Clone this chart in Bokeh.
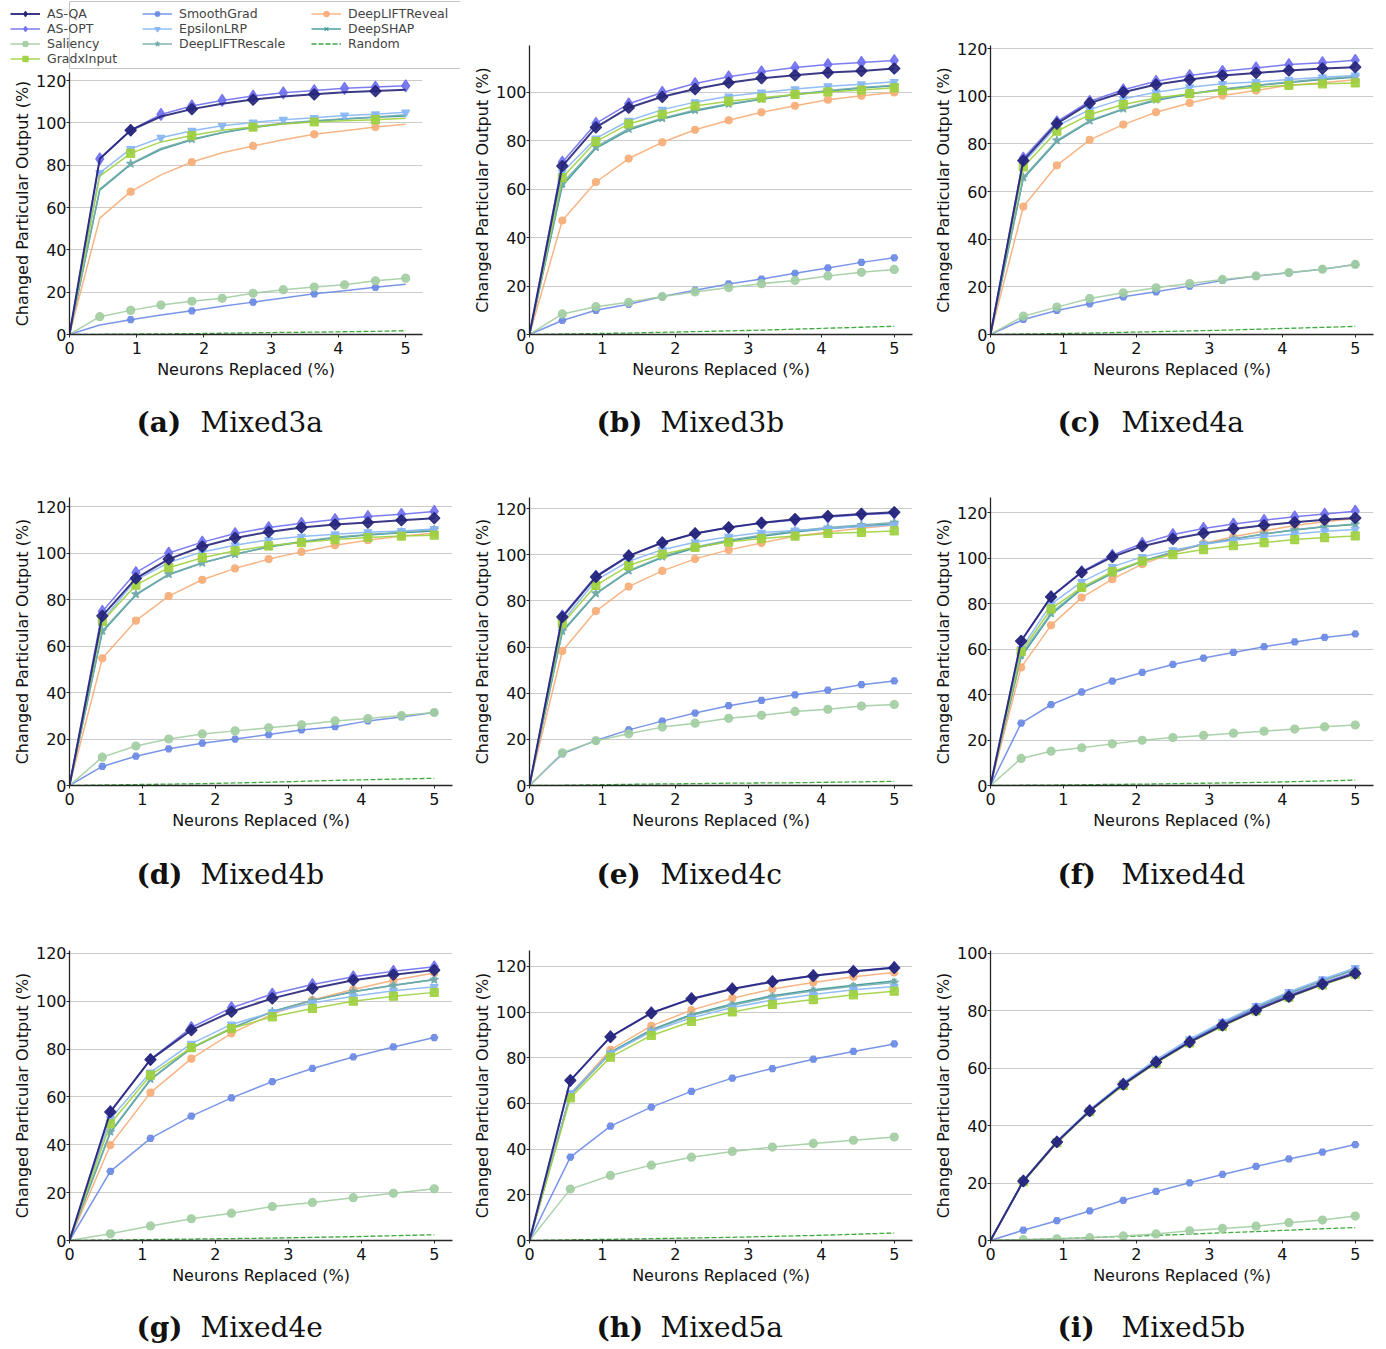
import math
from bokeh.plotting import figure
from bokeh.models import (Range1d, SingleIntervalTicker, Legend, LegendItem, Label)
from bokeh.layouts import row, column
from bokeh.embed import file_html
from bokeh.resources import INLINE

METHODS = ["AS-QA", "AS-OPT", "Saliency", "GradxInput", "SmoothGrad",
           "EpsilonLRP", "DeepLIFTRescale", "DeepLIFTReveal", "DeepSHAP", "Random"]

X12 = [0, 0.45, 0.91, 1.36, 1.82, 2.27, 2.73, 3.18, 3.64, 4.09, 4.55, 5.0]
X13 = [0, 0.42, 0.83, 1.25, 1.67, 2.08, 2.5, 2.92, 3.33, 3.75, 4.17, 4.58, 5.0]
X10 = [0, 0.56, 1.11, 1.67, 2.22, 2.78, 3.33, 3.89, 4.44, 5.0]

# (a) Mixed3a
A_ASQA = [0, 83.0, 96.5, 103.0, 106.5, 109.0, 111.0, 112.5, 113.5, 114.5, 115.0, 115.7]
A_ASOPT = [0, 83.0, 96.5, 104.0, 108.0, 110.6, 112.7, 114.2, 115.3, 116.3, 116.9, 117.5]
A_SAL = [0, 8.4, 11.4, 13.9, 15.7, 17.1, 19.5, 21.2, 22.4, 23.5, 25.4, 26.6]
A_GXI = [0, 74.8, 85.6, 91.0, 94.0, 96.5, 98.0, 99.5, 100.4, 101.0, 101.5, 102.2]
A_SG = [0, 4.5, 7.0, 9.2, 11.2, 13.3, 15.3, 17.3, 19.2, 20.7, 22.3, 23.8]
A_ELRP = [0, 76.4, 87.7, 93.0, 96.3, 98.6, 100.2, 101.5, 102.4, 103.5, 104.1, 105.0]
A_DLRS = [0, 68.7, 80.7, 87.9, 92.3, 95.5, 98.2, 99.8, 101.0, 102.0, 102.8, 103.8]
A_DLRV = [0, 55.0, 67.5, 75.4, 81.5, 85.9, 89.1, 92.0, 94.6, 96.3, 98.0, 99.4]
A_SHAP = [0, 68.2, 80.4, 87.4, 92.0, 95.3, 97.8, 99.6, 100.8, 101.8, 102.6, 103.3]
A_RAND = [0, 0.1, 0.2, 0.3, 0.4, 0.6, 0.8, 1.0, 1.1, 1.3, 1.5, 1.8]

# (b) Mixed3b
B_ASQA = [0, 69.6, 85.6, 93.7, 98.2, 101.4, 104.0, 105.9, 107.1, 108.2, 108.9, 109.9]
B_ASOPT = [0, 71.2, 87.2, 95.3, 100.0, 103.7, 106.5, 108.5, 110.3, 111.5, 112.4, 113.2]
B_SAL = [0, 8.5, 11.5, 13.3, 15.7, 17.6, 19.4, 21.0, 22.3, 24.2, 25.7, 26.9]
B_GXI = [0, 64.8, 79.7, 87.0, 91.0, 94.4, 96.4, 97.8, 99.2, 100.2, 101.0, 101.9]
B_SG = [0, 5.8, 10.0, 12.5, 15.7, 18.3, 20.9, 22.9, 25.3, 27.5, 29.8, 31.7]
B_ELRP = [0, 67.0, 81.0, 88.3, 92.9, 96.0, 98.4, 100.0, 101.4, 102.6, 103.4, 104.4]
B_DLRS = [0, 62.5, 77.5, 85.0, 89.4, 92.8, 95.3, 97.3, 99.2, 100.8, 102.0, 103.0]
B_DLRV = [0, 47.1, 63.0, 72.7, 79.4, 84.6, 88.5, 91.8, 94.5, 97.0, 98.6, 100.0]
B_SHAP = [0, 61.5, 76.9, 84.5, 89.0, 92.3, 95.0, 97.2, 99.2, 100.5, 101.8, 102.8]
B_RAND = [0, 0.2, 0.4, 0.6, 0.9, 1.2, 1.5, 1.8, 2.2, 2.6, 3.0, 3.4]

# (c) Mixed4a
C_ASQA = [0, 73.0, 88.5, 97.1, 101.7, 104.9, 107.0, 108.7, 109.8, 110.8, 111.6, 112.2]
C_ASOPT = [0, 74.0, 89.3, 97.9, 102.7, 106.3, 108.7, 110.5, 111.9, 113.3, 114.1, 115.1]
C_SAL = [0, 7.7, 11.5, 15.1, 17.5, 19.6, 21.4, 23.1, 24.6, 26.0, 27.4, 29.4]
C_GXI = [0, 70.3, 85.3, 92.3, 96.5, 99.3, 101.1, 102.5, 103.8, 104.6, 105.2, 105.6]
C_SG = [0, 6.3, 10.1, 12.9, 15.8, 17.9, 20.3, 22.7, 24.5, 25.9, 27.4, 29.4]
C_ELRP = [0, 72.0, 87.5, 94.4, 98.9, 101.7, 103.8, 105.2, 106.0, 107.0, 108.0, 108.7]
C_DLRS = [0, 66.0, 81.5, 89.8, 94.8, 98.6, 101.1, 103.0, 104.6, 106.0, 107.3, 108.3]
C_DLRV = [0, 53.7, 71.0, 81.7, 88.1, 93.3, 97.2, 100.3, 102.4, 104.6, 105.7, 106.9]
C_SHAP = [0, 65.5, 81.0, 89.5, 94.5, 98.2, 100.9, 102.8, 104.5, 105.8, 107.0, 108.0]
C_RAND = [0, 0.2, 0.4, 0.6, 0.9, 1.2, 1.5, 1.8, 2.2, 2.6, 3.0, 3.4]

# (d) Mixed4b
D_ASQA = [0, 73.0, 89.1, 97.4, 102.8, 106.5, 109.1, 111.0, 112.3, 113.1, 114.1, 115.0]
D_ASOPT = [0, 74.9, 91.6, 100.0, 104.7, 108.4, 111.0, 112.8, 114.4, 115.7, 116.7, 117.9]
D_SAL = [0, 12.2, 17.0, 20.0, 22.2, 23.5, 24.8, 26.1, 27.8, 28.8, 30.1, 31.4]
D_GXI = [0, 70.6, 86.2, 93.7, 98.0, 101.0, 103.1, 104.5, 105.8, 106.7, 107.3, 107.7]
D_SG = [0, 8.2, 12.6, 15.8, 18.2, 20.0, 21.9, 23.9, 25.3, 27.8, 29.5, 31.4]
D_ELRP = [0, 71.0, 88.4, 95.9, 100.5, 103.4, 105.7, 107.1, 108.1, 109.0, 109.5, 110.4]
D_DLRS = [0, 66.6, 82.3, 90.9, 95.8, 99.5, 102.8, 105.0, 106.8, 108.0, 109.0, 110.1]
D_DLRV = [0, 54.7, 70.9, 81.5, 88.5, 93.4, 97.4, 100.5, 103.4, 105.5, 107.3, 108.5]
D_SHAP = [0, 66.0, 82.0, 90.7, 95.7, 99.5, 102.6, 104.8, 106.6, 107.8, 108.7, 109.5]
D_RAND = [0, 0.2, 0.4, 0.6, 0.8, 1.1, 1.4, 1.8, 2.2, 2.5, 2.8, 3.1]

# (e) Mixed4c
E_ASQA = [0, 73.0, 90.4, 99.5, 105.2, 109.2, 111.8, 113.8, 115.4, 116.7, 117.7, 118.4]
E_ASOPT = [0, 73.5, 90.8, 99.6, 105.3, 109.2, 111.8, 113.7, 115.0, 116.3, 117.3, 118.0]
E_SAL = [0, 14.2, 19.4, 22.4, 25.3, 27.0, 29.1, 30.4, 32.1, 33.0, 34.4, 35.1]
E_GXI = [0, 70.1, 86.7, 95.3, 100.2, 103.2, 105.5, 107.0, 108.1, 109.2, 109.7, 110.3]
E_SG = [0, 13.7, 19.5, 24.1, 27.9, 31.4, 34.6, 36.9, 39.3, 41.3, 43.7, 45.3]
E_ELRP = [0, 71.0, 88.9, 97.2, 102.2, 105.4, 107.8, 109.6, 110.5, 111.3, 112.2, 112.9]
E_DLRS = [0, 67.0, 83.3, 93.1, 99.2, 103.4, 106.3, 108.4, 110.3, 111.8, 112.9, 114.0]
E_DLRV = [0, 58.3, 75.6, 86.2, 93.0, 98.2, 102.1, 105.1, 108.0, 109.9, 111.5, 112.9]
E_SHAP = [0, 66.5, 83.0, 92.8, 98.8, 102.9, 105.9, 108.0, 109.8, 111.3, 112.5, 113.4]
E_RAND = [0, 0.1, 0.3, 0.5, 0.7, 0.8, 1.0, 1.1, 1.2, 1.4, 1.6, 1.8]

# (f) Mixed4d
F_ASQA = [0, 63.5, 82.9, 93.7, 100.5, 105.2, 108.4, 110.9, 112.8, 114.4, 115.7, 116.8, 117.6]
F_ASOPT = [0, 63.5, 83.0, 94.0, 101.2, 106.4, 110.3, 113.0, 114.9, 116.6, 118.1, 119.3, 120.6]
F_SAL = [0, 11.9, 15.1, 16.6, 18.3, 19.9, 21.1, 22.0, 23.0, 23.9, 24.8, 25.8, 26.6]
F_GXI = [0, 58.8, 77.6, 87.1, 94.0, 98.6, 101.5, 103.7, 105.4, 106.8, 108.1, 109.0, 109.7]
F_SG = [0, 27.4, 35.5, 41.1, 45.9, 49.7, 53.2, 56.0, 58.5, 61.0, 63.1, 65.1, 66.6]
F_ELRP = [0, 60.0, 79.7, 89.5, 96.1, 100.5, 103.4, 106.1, 107.8, 109.3, 110.6, 111.8, 112.5]
F_DLRS = [0, 57.5, 75.8, 86.8, 93.5, 98.7, 102.7, 106.3, 108.5, 110.6, 112.4, 113.8, 114.9]
F_DLRV = [0, 51.9, 70.4, 82.6, 90.7, 97.3, 102.2, 106.4, 109.3, 111.9, 114.3, 115.9, 117.4]
F_SHAP = [0, 56.5, 75.1, 86.3, 93.3, 98.5, 102.5, 106.0, 108.3, 110.5, 112.3, 113.7, 114.7]
F_RAND = [0, 0.1, 0.2, 0.3, 0.5, 0.6, 0.8, 1.0, 1.2, 1.4, 1.7, 2.0, 2.4]

# (g) Mixed4e
G_ASQA = [0, 53.7, 75.6, 87.9, 95.6, 101.2, 105.3, 108.8, 111.1, 113.0]
G_ASOPT = [0, 54.0, 75.7, 89.0, 97.3, 103.0, 107.0, 110.2, 112.5, 114.4]
G_SAL = [0, 2.8, 6.1, 9.1, 11.4, 14.2, 15.9, 17.9, 19.7, 21.6]
G_GXI = [0, 48.8, 69.1, 80.6, 88.6, 93.5, 97.0, 100.0, 102.1, 103.7]
G_SG = [0, 28.9, 42.7, 52.0, 59.6, 66.4, 71.9, 76.7, 80.9, 84.8]
G_ELRP = [0, 50.9, 70.3, 82.3, 90.3, 95.4, 99.3, 102.1, 104.4, 106.0]
G_DLRS = [0, 45.5, 67.5, 80.5, 88.8, 95.6, 100.3, 104.1, 106.6, 109.0]
G_DLRV = [0, 39.9, 61.8, 76.0, 86.6, 94.6, 100.5, 104.9, 108.8, 111.8]
G_SHAP = [0, 45.0, 67.2, 80.3, 88.6, 95.7, 100.4, 104.0, 106.7, 109.1]
G_RAND = [0, 0.2, 0.4, 0.6, 0.8, 1.0, 1.3, 1.6, 2.0, 2.4]

# (h) Mixed5a
H_ASQA = [0, 70.1, 89.2, 99.6, 105.8, 110.1, 113.3, 115.9, 117.8, 119.4]
H_ASOPT = [0, 70.0, 89.3, 99.8, 106.0, 110.3, 113.5, 116.1, 118.0, 119.7]
H_SAL = [0, 22.5, 28.5, 33.0, 36.5, 39.0, 40.9, 42.5, 43.9, 45.3]
H_GXI = [0, 62.5, 80.3, 89.8, 95.9, 100.1, 103.4, 105.5, 107.6, 109.2]
H_SG = [0, 36.5, 50.1, 58.4, 65.3, 71.1, 75.3, 79.4, 82.8, 86.1]
H_ELRP = [0, 64.5, 82.0, 91.5, 97.5, 102.0, 105.3, 107.7, 109.8, 111.2]
H_DLRS = [0, 63.5, 82.0, 92.0, 98.5, 103.0, 106.7, 109.3, 111.3, 113.0]
H_DLRV = [0, 64.0, 83.5, 94.0, 100.9, 106.1, 110.1, 113.0, 115.5, 117.4]
H_SHAP = [0, 63.8, 82.5, 92.3, 99.0, 103.6, 107.2, 109.8, 111.8, 113.6]
H_RAND = [0, 0.3, 0.5, 0.8, 1.1, 1.4, 1.8, 2.2, 2.7, 3.3]

# (i) Mixed5b
I_ASQA = [0, 20.7, 34.3, 45.1, 54.4, 62.1, 69.1, 74.9, 80.2, 84.9, 89.3, 93.0]
I_ASOPT = [0, 20.8, 34.4, 45.3, 54.5, 62.3, 69.4, 75.3, 80.7, 85.4, 89.7, 93.5]
I_SAL = [0, 0.3, 0.6, 1.0, 1.6, 2.3, 3.4, 4.2, 5.0, 6.2, 7.1, 8.5]
I_GXI = [0, 20.5, 34.1, 44.9, 54.0, 61.8, 68.8, 74.6, 80.0, 84.7, 89.0, 92.8]
I_SG = [0, 3.6, 6.9, 10.3, 14.0, 17.1, 20.1, 23.0, 25.8, 28.4, 30.8, 33.4]
I_ELRP = [0, 21.0, 34.6, 45.6, 55.0, 63.0, 70.1, 76.1, 81.7, 86.6, 91.0, 94.9]
I_DLRS = [0, 20.6, 34.2, 45.1, 54.3, 62.3, 69.5, 75.6, 81.1, 86.0, 90.4, 94.3]
I_DLRV = [0, 20.5, 34.0, 45.0, 54.2, 62.0, 69.0, 75.0, 80.4, 85.2, 89.6, 93.3]
I_SHAP = [0, 20.6, 34.2, 45.1, 54.4, 62.4, 69.6, 75.7, 81.2, 86.1, 90.5, 94.4]
I_RAND = [0, 0.3, 0.6, 1.0, 1.4, 1.8, 2.2, 2.7, 3.1, 3.6, 4.1, 4.5]

PANELS = {
    "a": ("Mixed3a", X12, [A_ASQA, A_ASOPT, A_SAL, A_GXI, A_SG, A_ELRP, A_DLRS, A_DLRV, A_SHAP, A_RAND]),
    "b": ("Mixed3b", X12, [B_ASQA, B_ASOPT, B_SAL, B_GXI, B_SG, B_ELRP, B_DLRS, B_DLRV, B_SHAP, B_RAND]),
    "c": ("Mixed4a", X12, [C_ASQA, C_ASOPT, C_SAL, C_GXI, C_SG, C_ELRP, C_DLRS, C_DLRV, C_SHAP, C_RAND]),
    "d": ("Mixed4b", X12, [D_ASQA, D_ASOPT, D_SAL, D_GXI, D_SG, D_ELRP, D_DLRS, D_DLRV, D_SHAP, D_RAND]),
    "e": ("Mixed4c", X12, [E_ASQA, E_ASOPT, E_SAL, E_GXI, E_SG, E_ELRP, E_DLRS, E_DLRV, E_SHAP, E_RAND]),
    "f": ("Mixed4d", X13, [F_ASQA, F_ASOPT, F_SAL, F_GXI, F_SG, F_ELRP, F_DLRS, F_DLRV, F_SHAP, F_RAND]),
    "g": ("Mixed4e", X10, [G_ASQA, G_ASOPT, G_SAL, G_GXI, G_SG, G_ELRP, G_DLRS, G_DLRV, G_SHAP, G_RAND]),
    "h": ("Mixed5a", X10, [H_ASQA, H_ASOPT, H_SAL, H_GXI, H_SG, H_ELRP, H_DLRS, H_DLRV, H_SHAP, H_RAND]),
    "i": ("Mixed5b", X12, [I_ASQA, I_ASOPT, I_SAL, I_GXI, I_SG, I_ELRP, I_DLRS, I_DLRV, I_SHAP, I_RAND]),
}

# ---- styles ----
STYLE = {
    "AS-QA": dict(color="#25257a", marker="square", angle=math.pi / 4, size=8, lw=2.0),
    "AS-OPT": dict(color="#6f6ff0", marker="diamond", angle=0, size=12, lw=1.5),
    "Saliency": dict(color="#a2cda2", marker="circle", angle=0, size=8, lw=1.5),
    "GradxInput": dict(color="#9fd03e", marker="square", angle=0, size=8, lw=1.5),
    "SmoothGrad": dict(color="#6a8ae6", marker="hex", angle=0, size=7, lw=1.5),
    "EpsilonLRP": dict(color="#86b6f5", marker="inverted_triangle", angle=0, size=8, lw=1.5),
    "DeepLIFTRescale": dict(color="#74acac", marker="star", angle=0, size=9, lw=1.5),
    "DeepLIFTReveal": dict(color="#f6ad78", marker="circle", angle=0, size=7, lw=1.5),
    "DeepSHAP": dict(color="#359595", marker="x", angle=0, size=6, lw=1.5),
    "Random": dict(color="#3fa83f", marker=None, angle=0, size=0, lw=1.3),
}
DRAW_ORDER = ["Random", "DeepSHAP", "DeepLIFTReveal", "DeepLIFTRescale", "EpsilonLRP",
              "SmoothGrad", "GradxInput", "Saliency", "AS-OPT", "AS-QA"]
LEGEND_COLS = [["AS-QA", "AS-OPT", "Saliency", "GradxInput"],
               ["SmoothGrad", "EpsilonLRP", "DeepLIFTRescale"],
               ["DeepLIFTReveal", "DeepSHAP", "Random"]]
SPARSE_A = {"AS-QA", "GradxInput", "SmoothGrad", "DeepLIFTReveal", "DeepSHAP", "DeepLIFTRescale"}

# layout per panel: frame_w, frame_h, top, bottom, right, ymax
LAYOUT = {
    "a": (353, 262, 3, 60, 38, 123.8),
    "b": (383, 289, 45, 60, 9, 119.4),
    "c": (383, 289, 45, 60, 6, 121.3),
    "d": (383, 288, 45, 60, 8, 123.9),
    "e": (383, 288, 45, 60, 9, 124.8),
    "f": (383, 288, 45, 60, 6, 126.6),
    "g": (383, 290, 46, 55, 8, 121.2),
    "h": (383, 290, 46, 55, 9, 127.0),
    "i": (383, 290, 46, 55, 6, 101.0),
}
CAP_H = {"a": 58, "b": 58, "c": 58, "d": 59, "e": 59, "f": 59, "g": 53, "h": 53, "i": 53}
CAP_MID = {"a": 28, "b": 28, "c": 28, "d": 29, "e": 29, "f": 29, "g": 32, "h": 32, "i": 32}

FONT = "DejaVu Sans"


def add_series(p, xs, series, key):
    data = dict(zip(METHODS, series))
    rend = {}
    for m in DRAW_ORDER:
        st = STYLE[m]
        ys = data[m]
        if m == "Random":
            ln = p.line(xs, ys, line_color=st["color"], line_width=st["lw"], line_dash="5 2")
            rend[m] = [ln]
            continue
        ln = p.line(xs, ys, line_color=st["color"], line_width=st["lw"], line_alpha=0.9)
        if key == "a" and m in SPARSE_A:
            idx = list(range(2, len(xs), 2))
        else:
            idx = list(range(1, len(xs)))
        mx = [xs[i] for i in idx]
        my = [ys[i] for i in idx]
        sc = p.scatter(mx, my, marker=st["marker"], size=st["size"], angle=st["angle"],
                       fill_color=st["color"], line_color=st["color"], line_width=1.2,
                       fill_alpha=0.9, line_alpha=0.9)
        rend[m] = [ln, sc]
    return rend


def make_panel(key):
    name, xs, series = PANELS[key]
    fw, fh, top, bottom, right, ymax = LAYOUT[key]
    p = figure(output_backend="svg", toolbar_location=None,
               frame_width=fw, frame_height=fh,
               min_border_left=69, min_border_right=right,
               min_border_top=top, min_border_bottom=bottom,
               x_range=Range1d(0, 5.25), y_range=Range1d(0, ymax))
    p.outline_line_color = None
    p.background_fill_color = "white"
    p.border_fill_color = "white"
    p.xgrid.visible = False
    p.ygrid.grid_line_color = "#cbcbcb"
    p.ygrid.grid_line_width = 1
    p.xaxis.ticker = SingleIntervalTicker(interval=1, num_minor_ticks=0)
    p.yaxis.ticker = SingleIntervalTicker(interval=20, num_minor_ticks=0)
    for ax in (p.xaxis[0], p.yaxis[0]):
        ax.axis_line_color = "#262626"
        ax.axis_line_width = 1.3
        ax.major_tick_line_color = "#262626"
        ax.major_tick_out = 3
        ax.major_tick_in = 0
        ax.minor_tick_line_color = None
        ax.major_label_text_font = FONT
        ax.major_label_text_font_size = "16px"
        ax.major_label_text_color = "#111111"
        ax.axis_label_text_font = FONT
        ax.axis_label_text_font_size = "16px"
        ax.axis_label_text_font_style = "normal"
        ax.axis_label_text_color = "#111111"
    p.xaxis.axis_label = "Neurons Replaced (%)"
    p.xaxis.major_label_standoff = 4
    p.xaxis.axis_label_standoff = 3
    p.yaxis.axis_label = "Changed Particular Output (%)"
    p.yaxis.major_label_standoff = 0
    p.yaxis.axis_label_standoff = 1
    add_series(p, xs, series, key)
    return p


def make_caption(key):
    name = PANELS[key][0]
    fw, fh, top, bottom, right, ymax = LAYOUT[key]
    h = CAP_H[key]
    c = figure(output_backend="svg", toolbar_location=None,
               frame_width=fw, frame_height=h,
               min_border_left=69, min_border_right=right,
               min_border_top=0, min_border_bottom=0,
               x_axis_type=None, y_axis_type=None,
               x_range=Range1d(0, fw), y_range=Range1d(0, h))
    c.outline_line_color = None
    c.xgrid.visible = False
    c.ygrid.visible = False
    c.border_fill_color = "white"
    mid = h - CAP_MID[key]
    c.add_layout(Label(x=67, y=mid, x_units="screen", y_units="screen",
                       text="(%s)" % key, text_font="DejaVu Serif", text_font_style="bold",
                       text_font_size="28px", text_baseline="middle", text_align="left",
                       text_color="#111111"))
    c.add_layout(Label(x=131, y=mid, x_units="screen", y_units="screen",
                       text=name, text_font="DejaVu Serif", text_font_style="normal",
                       text_font_size="28px", text_baseline="middle", text_align="left",
                       text_color="#111111"))
    return c


def make_legend_fig():
    # legend box: its own small figure; renderers reuse panel (a) data, kept out of view
    lf = figure(output_backend="svg", toolbar_location=None,
                frame_width=448, frame_height=68,
                min_border_left=7, min_border_right=5,
                min_border_top=1, min_border_bottom=0,
                x_axis_type=None, y_axis_type=None,
                x_range=Range1d(100, 101), y_range=Range1d(1000, 1001))
    lf.xgrid.visible = False
    lf.ygrid.visible = False
    lf.outline_line_color = "#c4c4c4"
    lf.outline_line_width = 1
    lf.border_fill_color = "white"
    name, xs, series = PANELS["a"]
    data = dict(zip(METHODS, series))
    rend = {}
    for m in METHODS:
        st = STYLE[m]
        ys = data[m]
        if m == "Random":
            rend[m] = [lf.line(xs, ys, line_color=st["color"], line_width=st["lw"], line_dash="5 2")]
        else:
            ln = lf.line(xs, ys, line_color=st["color"], line_width=st["lw"], line_alpha=0.9)
            mk = "diamond" if m == "AS-QA" else st["marker"]
            sz = 11 if m == "AS-QA" else st["size"] - 1
            sc = lf.scatter(xs, ys, marker=mk, size=sz,
                            fill_color=st["color"], line_color=st["color"], line_width=1.2,
                            fill_alpha=0.9, line_alpha=0.9)
            rend[m] = [ln, sc]
    xoffs = [6, 138, 307]
    yoffs = [3.5, 18.5, 18.5]
    for col, xo, yo in zip(LEGEND_COLS, xoffs, yoffs):
        items = [LegendItem(label=m, renderers=rend[m]) for m in col]
        leg = Legend(items=items, location=(xo, yo),
                     label_text_font=FONT, label_text_font_size="12.5px",
                     label_height=13, glyph_height=13, glyph_width=30,
                     label_standoff=7, spacing=0, padding=3, margin=0,
                     border_line_color=None, background_fill_alpha=0.0)
        lf.add_layout(leg, "center")
    return lf


row1 = row([column([make_legend_fig(), make_panel("a"), make_caption("a")]),
            column([make_panel("b"), make_caption("b")]),
            column([make_panel("c"), make_caption("c")])])
row2 = row([column([make_panel(k), make_caption(k)]) for k in ("d", "e", "f")])
row3 = row([column([make_panel(k), make_caption(k)]) for k in ("g", "h", "i")])
layout = column([row1, row2, row3])

open("out.html", "w").write(file_html(layout, INLINE))
